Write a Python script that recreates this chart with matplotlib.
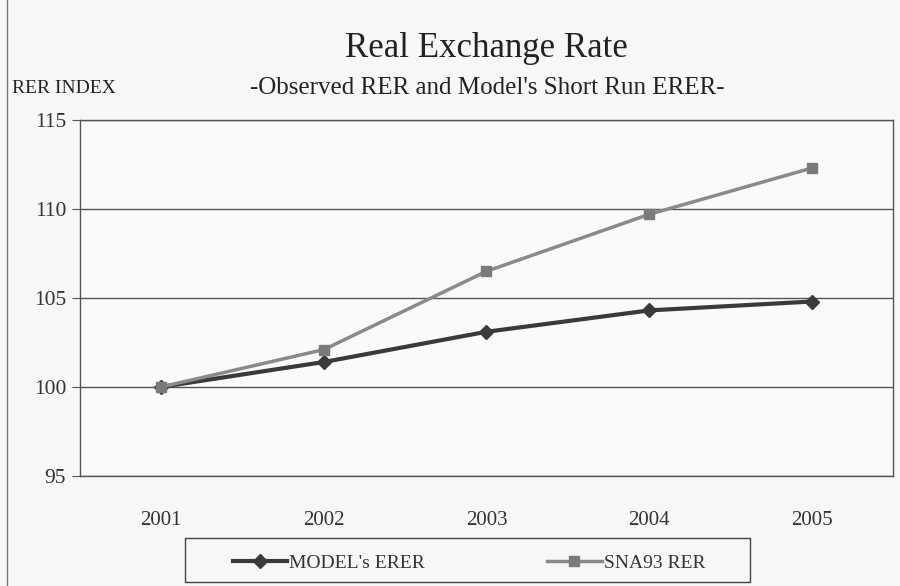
import matplotlib
matplotlib.use("Agg")
import matplotlib.pyplot as plt
from matplotlib.lines import Line2D
from matplotlib.patches import Rectangle

plt.rcParams['font.family'] = ['Liberation Serif', 'DejaVu Serif']

years = ['2001', '2002', '2003', '2004', '2005']
model_erer = [100.0, 101.4, 103.1, 104.3, 104.8]
sna93_rer = [100.0, 102.1, 106.5, 109.7, 112.3]
yticks = [95, 100, 105, 110, 115]

fig = plt.figure(figsize=(9, 5.86), dpi=100)
fig.patch.set_facecolor('#f7f7f7')
ax = fig.add_axes([0.089, 0.188, 0.903, 0.607])
ax.set_facecolor('#fafafa')

x = list(range(len(years)))
ax.plot(x, model_erer, color='#3a3a3a', lw=3, marker='D', ms=7,
        label="MODEL's ERER", zorder=3)
ax.plot(x, sna93_rer, color='#8a8a8a', lw=2.5, marker='s', ms=7,
        mfc='#7a7a7a', mec='#7a7a7a', label='SNA93 RER', zorder=3)

ax.set_xlim(-0.5, len(years) - 0.5)
ax.set_ylim(95, 115)
ax.set_yticks(yticks)
ax.set_xticks(x)
ax.set_xticklabels(years)
ax.yaxis.grid(True, color='#555555', lw=1)
ax.set_axisbelow(True)
for s in ax.spines.values():
    s.set_color('#555555')
    s.set_linewidth(1)
ax.tick_params(axis='y', length=6, color='#555555', labelsize=15.5, pad=4)
ax.tick_params(axis='x', length=0, labelsize=15, pad=25)
for t in ax.get_xticklabels() + ax.get_yticklabels():
    t.set_color('#333333')

fig.text(0.541, 0.918, 'Real Exchange Rate', ha='center', va='center',
         fontsize=25, color='#222222')
fig.text(0.541, 0.849, "-Observed RER and Model's Short Run ERER-", ha='center',
         va='center', fontsize=18, color='#222222')
fig.text(0.013, 0.849, 'RER INDEX', ha='left', va='center', fontsize=14,
         color='#222222')

# legend box drawn separately (wide side padding)
fig.add_artist(Rectangle((185 / 900, 4 / 586), 565 / 900, 44 / 586,
                         transform=fig.transFigure, fill=False,
                         edgecolor='#444444', lw=1))
leg = fig.legend(loc='center', bbox_to_anchor=(0.521, 0.039), ncol=2,
                 fontsize=14, frameon=False,
                 handlelength=2.8, columnspacing=6.3, borderpad=0.3,
                 handletextpad=0.1, borderaxespad=0)
for t in leg.get_texts():
    t.set_color('#333333')

fig.add_artist(Line2D([0.008, 0.008], [0, 1], color='#777777', lw=1))

fig.savefig('out.png', dpi=100, facecolor=fig.get_facecolor())
